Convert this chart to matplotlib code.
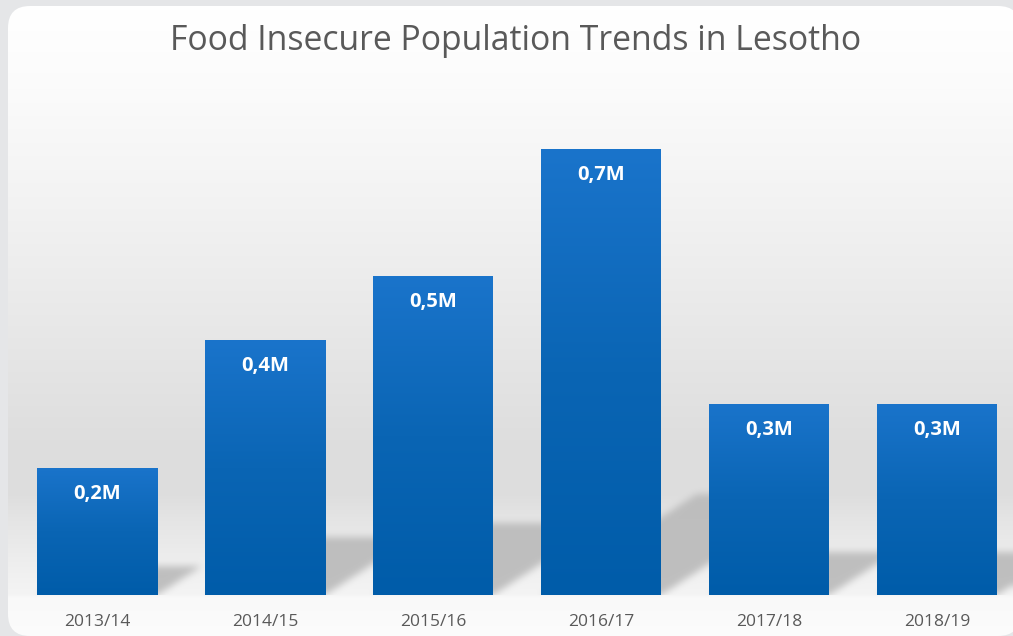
import numpy as np
import matplotlib
matplotlib.use('Agg')
import matplotlib.pyplot as plt
from matplotlib.patches import FancyBboxPatch
from matplotlib.path import Path
from matplotlib.colors import LinearSegmentedColormap

# ---------------- data ----------------
seasons = ['2013/14', '2014/15', '2015/16', '2016/17', '2017/18', '2018/19']
population_m = [0.2, 0.4, 0.5, 0.7, 0.3, 0.3]
value_labels = ['0,2M', '0,4M', '0,5M', '0,7M', '0,3M', '0,3M']
title = 'Food Insecure Population Trends in Lesotho'

# ---------------- figure ----------------
W, H = 1013, 636
plt.rcParams['font.family'] = ['Open Sans', 'DejaVu Sans']
fig = plt.figure(figsize=(W / 100, H / 100), dpi=100)
fig.patch.set_facecolor('#e5e6e8')

# background axes in pixel coordinates
bg = fig.add_axes([0, 0, 1, 1], zorder=0)
bg.set_xlim(0, W)
bg.set_ylim(0, H)
bg.axis('off')

panel = FancyBboxPatch((8, 0), 1012, 630, boxstyle='round,pad=0,rounding_size=22',
                       facecolor='none', edgecolor='none', transform=bg.transData)
bg.add_patch(panel)

# ---------------- main axes ----------------
base_px = 595
unit_px = 637.5
step_px = 168
first_center = 97
ax = fig.add_axes([0, (H - base_px) / H, 1, (base_px - 6) / H], zorder=1)
ax.patch.set_alpha(0)
xlim = (-first_center / step_px, (W - first_center) / step_px)
ylim = (0, (base_px - 6) / unit_px)

x = np.arange(len(seasons))
bar_w = 120 / step_px
bars = ax.bar(x, population_m, bar_w, color='none', edgecolor='none', zorder=3)
ax.set_xlim(*xlim)
ax.set_ylim(*ylim)

# ---------------- panel gradient + perspective shadows (one raster) ----------------
stops_y = [0, 80, 200, 320, 450, 495, 520, 560, 594, 598, 636]
stops_v = [1.0, 0.985, 0.95, 0.91, 0.865, 0.868, 0.895, 0.93, 0.955, 0.975, 0.985]

skew_x = 1.32   # horizontal shift (data x) per unit of value
rise = 0.226    # vertical extent as fraction of value
fig.canvas.draw()
xs = np.arange(W) + 0.5
ys = np.arange(H) + 0.5
gx, gy = np.meshgrid(xs, ys)
pts = np.column_stack([gx.ravel(), gy.ravel()])
mask = np.zeros(H * W)
for xi, v in zip(x, population_m):
    x0, x1 = xi - bar_w / 2, xi + bar_w / 2
    poly = [(x0, 0), (x1, 0), (x1 + v * skew_x, v * rise), (x0 + v * skew_x, v * rise)]
    disp = ax.transData.transform(poly)
    mask = np.maximum(mask, Path(disp).contains_points(pts).astype(float))
mask = mask.reshape(H, W)


def box_blur(a, r, axis):
    pad = [(0, 0), (0, 0)]
    pad[axis] = (r + 1, r)
    ap = np.pad(a, pad, mode='edge')
    c = np.cumsum(ap, axis=axis)
    n = a.shape[axis]
    if axis == 0:
        return (c[2 * r + 1:2 * r + 1 + n] - c[:n]) / (2 * r + 1)
    return (c[:, 2 * r + 1:2 * r + 1 + n] - c[:, :n]) / (2 * r + 1)


for _ in range(3):
    mask = box_blur(mask, 3, 0)
    mask = box_blur(mask, 3, 1)
base_disp = ax.transData.transform((0, 0))[1]
mask[gy < base_disp] = 0

# rows from top of figure
gvals = np.interp(H - gy, stops_y, stops_v)
alpha = mask * 0.92
gray = gvals * (1 - alpha) + 0.73 * alpha
rgb = np.clip(np.round(gray * 255), 0, 255).astype(np.uint8)
img = np.dstack([rgb, rgb, rgb])
im = bg.imshow(img, extent=(0, W, 0, H), origin='lower', aspect='auto',
               interpolation='none', zorder=1)
im.set_clip_path(panel)

# ---------------- gradient bars ----------------
bar_cmap = LinearSegmentedColormap.from_list('barblue', ['#005ca9', '#0a65b4', '#1a74cb'])
for b, v in zip(bars, population_m):
    x0 = b.get_x()
    gi = ax.imshow(np.linspace(1, 0, 256)[:, None], extent=(x0, x0 + b.get_width(), 0, v),
                   cmap=bar_cmap, vmin=0, vmax=1, aspect='auto', zorder=3,
                   interpolation='bilinear')
    gi.set_clip_path(b)
ax.set_xlim(*xlim)
ax.set_ylim(*ylim)
ax.set_aspect('auto')

for xi, v, lbl in zip(x, population_m, value_labels):
    ax.annotate(lbl, (xi, v), xytext=(0, -26 * 0.72), textcoords='offset points',
                ha='center', va='center', color='white', fontweight='bold', fontsize=14.5,
                zorder=5)

ax.set_xticks(x, seasons)
ax.set_yticks([])
ax.tick_params(axis='x', length=0, pad=13.5, labelsize=12.5, labelcolor='#595959')
for s in ax.spines.values():
    s.set_visible(False)

fig.text(516 / W, 1 - 50 / H, title, ha='center', va='baseline', fontsize=24.3,
         color='#595959')

fig.savefig('out.png', dpi=100, facecolor=fig.get_facecolor())
